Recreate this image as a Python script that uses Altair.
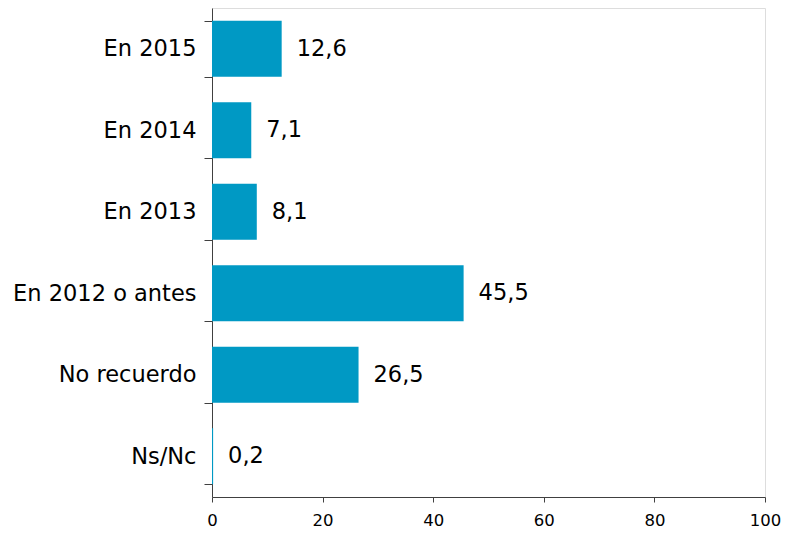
import altair as alt
import pandas as pd

categories = ["En 2015", "En 2014", "En 2013", "En 2012 o antes", "No recuerdo", "Ns/Nc"]
values = [12.6, 7.1, 8.1, 45.5, 26.5, 0.2]

df = pd.DataFrame({"cat": categories, "val": values})

FONT = "DejaVu Sans"

y_enc = alt.Y(
    "cat:N",
    sort=categories,
    title=None,
    scale=alt.Scale(paddingInner=0.31, paddingOuter=0.155),
    axis=alt.Axis(
        tickBand="extent",
        tickSize=8,
        labelPadding=8,
        labelLimit=400,
        labelFontSize=22.5,
        labelFont=FONT,
        labelColor="#000000",
        domainColor="#404040",
        tickColor="#404040",
        domainWidth=1,
    ),
)

x_enc = alt.X(
    "val:Q",
    title=None,
    scale=alt.Scale(domain=[0, 100], nice=False),
    axis=alt.Axis(
        values=[0, 20, 40, 60, 80, 100],
        grid=False,
        tickSize=5,
        labelPadding=10,
        labelFlush=False,
        labelFontSize=16.5,
        labelFont=FONT,
        labelColor="#000000",
        domainColor="#404040",
        tickColor="#404040",
    ),
)

bars = alt.Chart(df).mark_bar(color="#0099C4").encode(
    x=x_enc, y=y_enc
)

text = alt.Chart(df).transform_calculate(
    lbl="replace(format(datum.val, '.1f'), '.', ',')"
).mark_text(align="left", baseline="middle", dx=15, fontSize=22.5, font=FONT, color="#000000").encode(
    x=alt.X("val:Q"), y=alt.Y("cat:N", sort=categories), text="lbl:N"
)

chart = (bars + text).properties(
    width=553,
    height=489,
    autosize=alt.AutoSizeParams(type="none"),
    padding={"left": 204, "top": 0, "right": 16, "bottom": 36},
).configure_view(stroke=None).configure(background="#ffffff")

chart.save("out.html", embed_options={"renderer": "svg", "actions": False})
